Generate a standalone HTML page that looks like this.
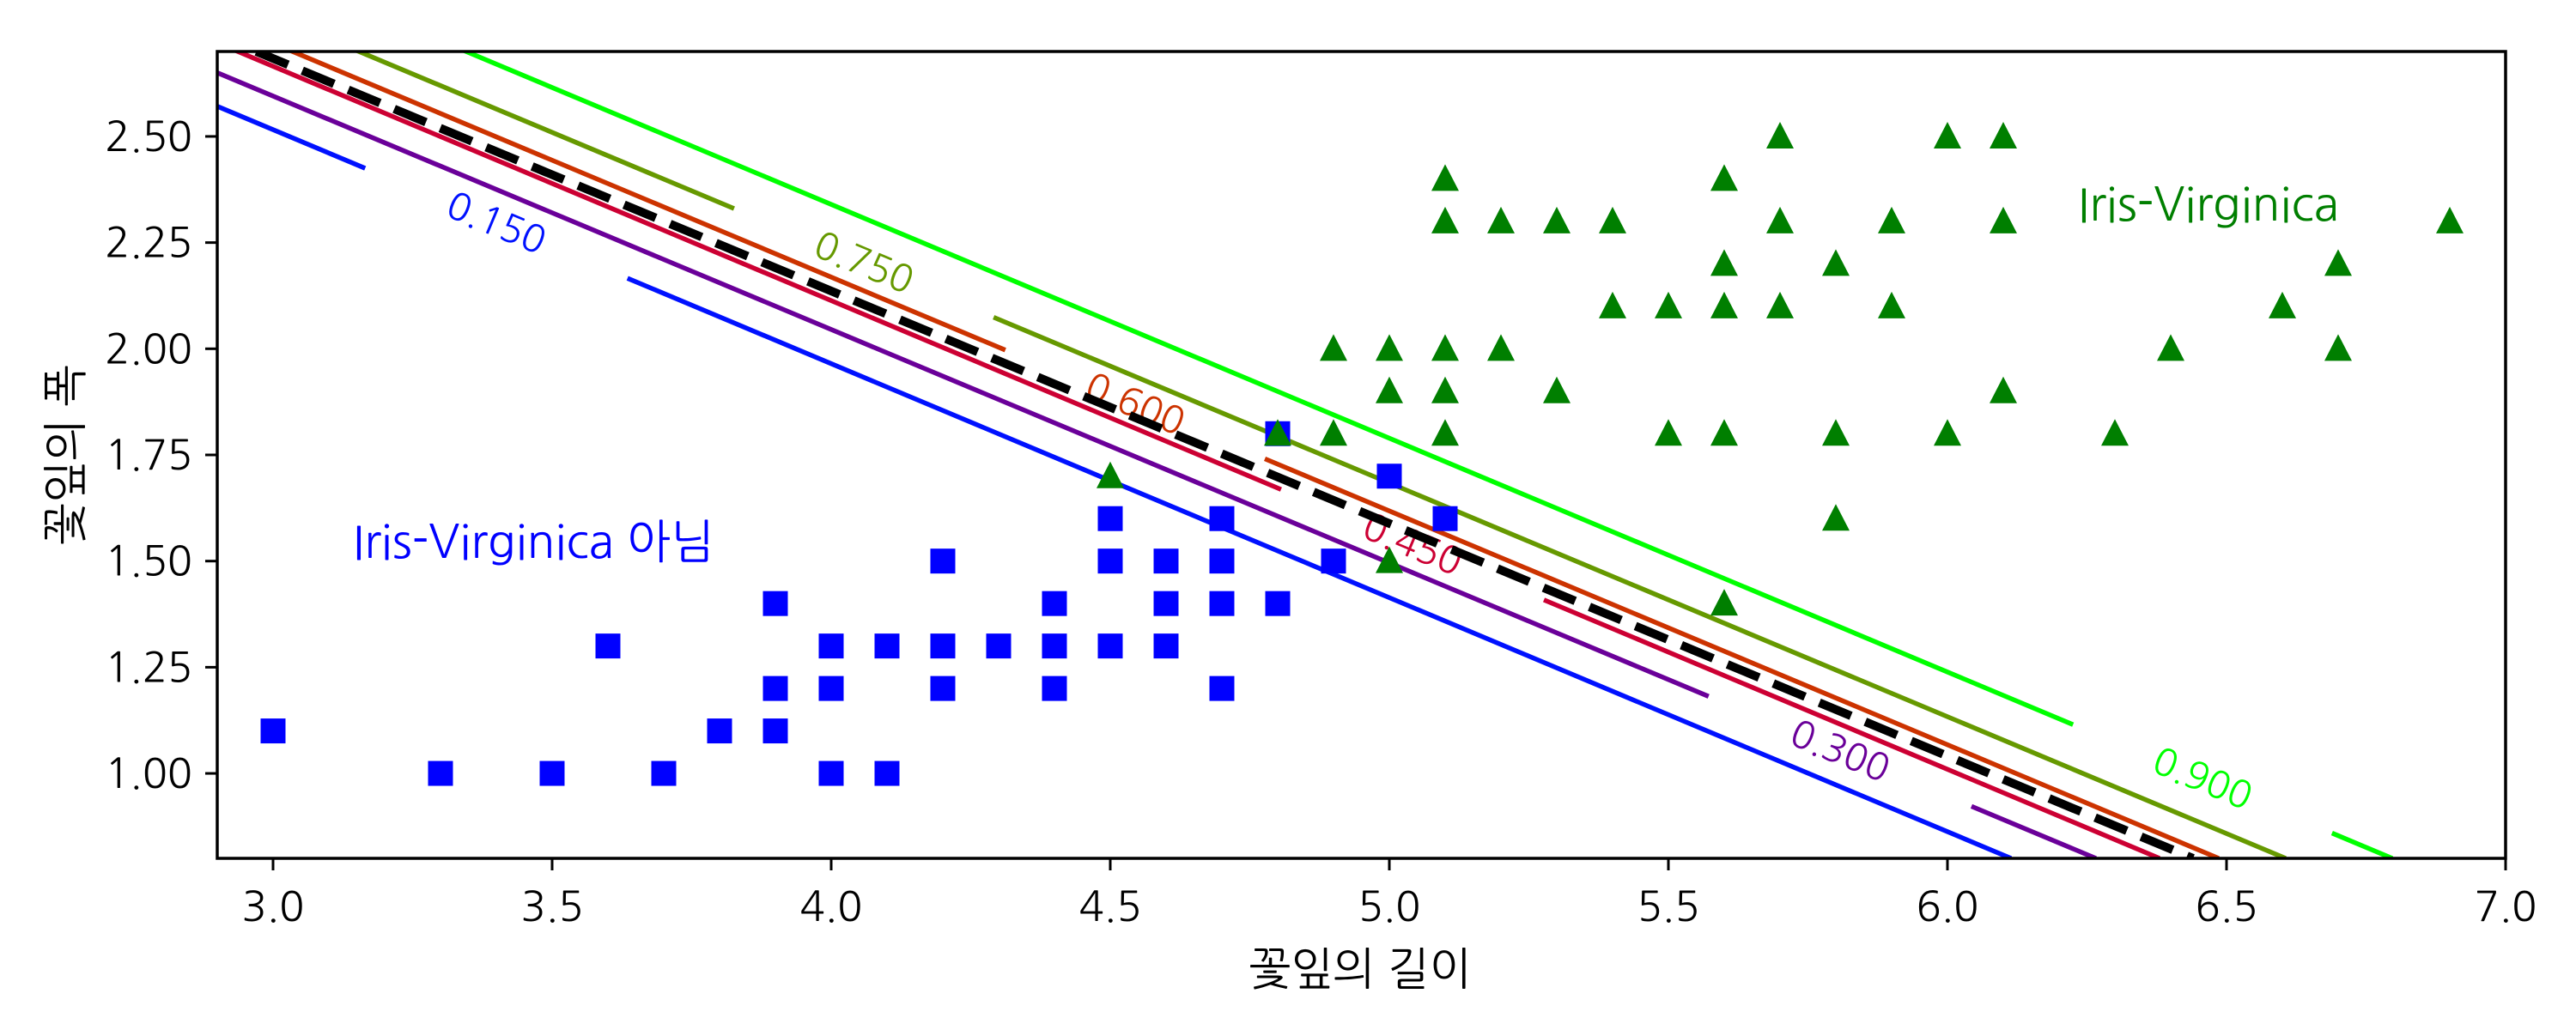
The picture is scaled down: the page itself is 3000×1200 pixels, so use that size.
<!DOCTYPE html>
<html><head><meta charset="utf-8"><style>
html,body{margin:0;padding:0;background:#fff}
svg{display:block}
text{font-family:"NanumGothic","Liberation Sans","Noto Sans CJK KR",sans-serif}
</style></head><body>
<svg id="chart" width="3000" height="1200" viewBox="0 0 3000 1200" xmlns="http://www.w3.org/2000/svg">
<rect width="3000" height="1200" fill="#fff"/>
<g id="lines"></g>
<g id="marks"></g>
<g id="axes"></g>
</svg>
<script>
const xTicks = [3.0,3.5,4.0,4.5,5.0,5.5,6.0,6.5,7.0];
const xTickLabels = ["3.0","3.5","4.0","4.5","5.0","5.5","6.0","6.5","7.0"];
const yTicks = [1.0,1.25,1.5,1.75,2.0,2.25,2.5];
const yTickLabels = ["1.00","1.25","1.50","1.75","2.00","2.25","2.50"];
const notX = [3.0,3.3,3.5,3.6,3.7,3.8,3.9,3.9,3.9,4.0,4.0,4.0,4.1,4.1,4.2,4.2,4.2,4.3,4.4,4.4,4.4,4.5,4.5,4.5,4.6,4.6,4.6,4.7,4.7,4.7,4.7,4.8,4.8,4.9,5.0,5.1];
const notY = [1.1,1.0,1.0,1.3,1.0,1.1,1.4,1.2,1.1,1.3,1.2,1.0,1.3,1.0,1.5,1.3,1.2,1.3,1.4,1.3,1.2,1.6,1.5,1.3,1.5,1.4,1.3,1.6,1.5,1.4,1.2,1.8,1.4,1.5,1.7,1.6];
const virX = [4.5,4.8,4.9,4.9,5.0,5.0,5.0,5.1,5.1,5.1,5.1,5.1,5.2,5.2,5.3,5.3,5.4,5.4,5.5,5.5,5.6,5.6,5.6,5.6,5.6,5.7,5.7,5.7,5.8,5.8,5.8,5.9,5.9,6.0,6.0,6.1,6.1,6.1,6.3,6.4,6.6,6.7,6.7,6.9];
const virY = [1.7,1.8,2.0,1.8,2.0,1.9,1.5,2.4,2.3,2.0,1.9,1.8,2.3,2.0,2.3,1.9,2.3,2.1,2.1,1.8,2.4,2.2,2.1,1.8,1.4,2.5,2.3,2.1,2.2,1.8,1.6,2.3,2.1,2.5,1.8,2.5,2.3,1.9,1.8,2.0,2.1,2.2,2.0,2.3];
// contour levels: x at y=2.7 (top), x at y=0.8 (bottom), label gap x range
const levels = ["0.150","0.300","0.450","0.600","0.750","0.900"];
const levelTopX = [2.666,2.809,2.937,3.035,3.154,3.346];
const levelBotX = [6.114,6.266,6.38,6.486,6.606,6.797];
const gapStart = [3.165,5.572,4.806,4.312,3.826,6.225];
const gapEnd = [3.635,6.043,5.277,4.777,4.291,6.689];
const colors = ["#0011ff","#6a0099","#cc0033","#cc3300","#669900","#00ff00"];
const boundaryTop = 2.97, boundaryBot = 6.44;

const X0=2.9,X1=7.0,Y0=0.8,Y1=2.7,L=253,R=2918,T=60,B=1000;
const sx=v=>L+(v-X0)/(X1-X0)*(R-L);
const sy=v=>B-(v-Y0)/(Y1-Y0)*(B-T);
const NS="http://www.w3.org/2000/svg";
function mk(tag,attrs,parent){const e=document.createElementNS(NS,tag);for(const k in attrs)e.setAttribute(k,attrs[k]);parent.appendChild(e);return e;}
const gl=document.getElementById('lines'),gm=document.getElementById('marks'),ga=document.getElementById('axes');
const yAt=(i,x)=>Y1+(x-levelTopX[i])/(levelBotX[i]-levelTopX[i])*(Y0-Y1);
const xAt=(i,y)=>levelTopX[i]+(y-Y1)/(Y0-Y1)*(levelBotX[i]-levelTopX[i]);
const cp=mk('clipPath',{id:'clip'},gl);mk('rect',{x:L,y:T,width:R-L,height:B-T},cp);
gl.setAttribute('clip-path','url(#clip)');
levels.forEach((lv,i)=>{
  const segs=[[levelTopX[i]-0.3,gapStart[i]],[gapEnd[i],levelBotX[i]]];
  segs.forEach((s,j)=>{
    const ln=mk('line',{x1:sx(s[0]),y1:sy(yAt(i,s[0])),x2:sx(s[1]),y2:sy(yAt(i,s[1])),stroke:colors[i],'stroke-width':5.5},gl);
    
    
  });
  const mx=(gapStart[i]+gapEnd[i])/2, my=yAt(i,mx);
  const ang=Math.atan2(sy(yAt(i,gapEnd[i]))-sy(yAt(i,gapStart[i])),sx(gapEnd[i])-sx(gapStart[i]))*180/Math.PI;
  const t=mk('text',{x:sx(mx),y:sy(my),fill:colors[i],'font-size':44,'text-anchor':'middle','dominant-baseline':'central',transform:`rotate(${ang} ${sx(mx)} ${sy(my)})`},gl);
  t.textContent=lv;
  
  
});
const bd=mk('line',{x1:sx(boundaryTop),y1:sy(Y1),x2:sx(boundaryBot),y2:sy(Y0),stroke:'#000','stroke-width':10,'stroke-dasharray':'40 18'},gl);


notX.forEach((x,i)=>{
  const r=mk('rect',{x:sx(x)-14.5,y:sy(notY[i])-14.5,width:29,height:29,fill:'#0000ff'},gm);
  
  
});
virX.forEach((x,i)=>{
  const cx=sx(x),cy=sy(virY[i]);
  const p=mk('polygon',{points:`${cx},${cy-17} ${cx-16},${cy+14} ${cx+16},${cy+14}`,fill:'#007f00'},gm);
  
  
});
const fr=mk('rect',{x:L,y:T,width:R-L,height:B-T,fill:'none',stroke:'#000','stroke-width':3.5},ga);


xTicks.forEach((v,i)=>{
  const tk=mk('line',{x1:sx(v),y1:B,x2:sx(v),y2:B+14,stroke:'#000','stroke-width':3},ga);
  
  
  const t=mk('text',{x:sx(v),y:B+73,'font-size':48,'text-anchor':'middle'},ga);
  t.textContent=xTickLabels[i];
  
  
});
yTicks.forEach((v,i)=>{
  const tk=mk('line',{x1:L-14,y1:sy(v),x2:L,y2:sy(v),stroke:'#000','stroke-width':3},ga);
  
  
  const t=mk('text',{x:224,y:sy(v)+17,'font-size':48,'text-anchor':'end'},ga);
  t.textContent=yTickLabels[i];
  
  
});
</script>
<svg style="position:absolute;left:0;top:0" width="3000" height="1200">
<text x="2420" y="257" font-size="54" fill="#007f00">Iris-Virginica</text>
<text x="411" y="650" font-size="54" fill="#0000ff">Iris-Virginica 아님</text>
<text x="1584" y="1147" font-size="52" text-anchor="middle">꽃잎의 길이</text>
<text x="0" y="0" font-size="52" text-anchor="middle" transform="translate(94 530) rotate(-90)">꽃잎의 폭</text>
</svg>
</body></html>
